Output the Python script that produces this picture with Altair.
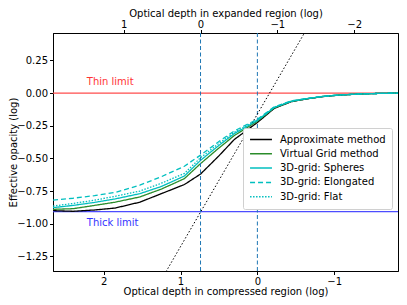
import altair as alt
import pandas as pd

# ---- data ----
x_pts = [2.66, 2.4, 2.12, 1.85, 1.53, 1.25, 0.95, 0.74, 0.5, 0.3, 0.0, -0.22, -0.44, -0.64, -0.85, -1.06, -1.3, -1.55, -1.83]
approx = [-0.90, -0.905, -0.895, -0.88, -0.835, -0.77, -0.70, -0.62, -0.48, -0.355, -0.225, -0.117, -0.066, -0.045, -0.027, -0.016, -0.008, -0.003, 0.0]
virtual = [-0.89, -0.885, -0.86, -0.835, -0.795, -0.735, -0.655, -0.54, -0.42, -0.325, -0.215, -0.113, -0.064, -0.044, -0.026, -0.015, -0.008, -0.003, 0.0]
spheres = [-0.877, -0.86, -0.837, -0.81, -0.77, -0.715, -0.635, -0.515, -0.40, -0.31, -0.21, -0.11, -0.063, -0.043, -0.026, -0.015, -0.008, -0.003, 0.0]
elongated = [-0.82, -0.805, -0.785, -0.76, -0.705, -0.64, -0.56, -0.475, -0.37, -0.29, -0.20, -0.105, -0.06, -0.041, -0.025, -0.014, -0.007, -0.003, 0.0]
flat = [-0.865, -0.845, -0.82, -0.79, -0.75, -0.69, -0.615, -0.495, -0.385, -0.30, -0.205, -0.108, -0.062, -0.042, -0.025, -0.015, -0.008, -0.003, 0.0]

methods = ["Approximate method", "Virtual Grid method", "3D-grid: Spheres", "3D-grid: Elongated", "3D-grid: Flat"]
colors = ["#000000", "#2a8c2a", "#00bfbf", "#00bfbf", "#00bfbf"]
dashes = [[1, 0], [1, 0], [1, 0], [5, 3], [1.5, 1.5]]

diag_x = [1.35, -0.75]
diag_y = [-1.53, 0.60]

thin_y = 0.0
thick_y = -0.908
vlines_bottom = [0.0]
vlines_top = [0.0]
shift = 0.74

x_dom = [-1.83, 2.66]
y_dom = [-1.362, 0.46]
bottom_ticks = [2, 1, 0, -1]
top_ticks = [1, 0, -1, -2]
y_ticks = [0.25, 0.0, -0.25, -0.5, -0.75, -1.0, -1.25]

label_x = [2.22, 2.22]
label_y = [0.085, -0.995]
label_text = ["Thin limit", "Thick limit"]

series = {methods[0]: approx, methods[1]: virtual, methods[2]: spheres,
          methods[3]: elongated, methods[4]: flat}
rows = []
for m in methods:
    for xv, yv in zip(x_pts, series[m]):
        rows.append({"method": m, "x": xv, "y": yv})
df = pd.DataFrame(rows)

FONT = "DejaVu Sans"
W, H = 345, 238

xscale = alt.Scale(domain=x_dom, reverse=True, nice=False, zero=False)
yscale = alt.Scale(domain=y_dom, nice=False, zero=False)

xenc = alt.X("x:Q", scale=xscale,
             axis=alt.Axis(title="Optical depth in compressed region (log)", values=bottom_ticks,
                           format="d", orient="bottom", titleX=W / 2, titleY=23,
                           titleBaseline="alphabetic", titleAlign="center"))
yenc = alt.Y("y:Q", scale=yscale,
             axis=alt.Axis(title="Effective opacity (log)", values=y_ticks, format=".2f",
                           titleX=-40, titleY=H / 2, titleBaseline="middle",
                           titleAlign="center", titleAngle=270))

lines = alt.Chart(df).mark_line(strokeWidth=1.3, clip=True).encode(
    x=xenc, y=yenc,
    color=alt.Color("method:N", sort=methods,
                    scale=alt.Scale(domain=methods, range=colors),
                    legend=alt.Legend(title=None, orient="none", legendX=190, legendY=95,
                                      symbolType="stroke", symbolSize=480, symbolStrokeWidth=1.5,
                                      labelFontSize=10, labelFont=FONT, labelColor="black",
                                      clipHeight=11, rowPadding=3.3, padding=6, labelOffset=7,
                                      strokeColor="#d0d0d0", fillColor="white",
                                      cornerRadius=2, symbolOffset=0)),
    strokeDash=alt.StrokeDash("method:N", sort=methods,
                              scale=alt.Scale(domain=methods, range=dashes)),
)

diag = alt.Chart(pd.DataFrame({"x": diag_x, "y": diag_y})).mark_line(
    color="black", strokeDash=[1.5, 2], strokeWidth=1, clip=True).encode(x=xenc, y=yenc)

thin_rule = alt.Chart(pd.DataFrame({"y": [thin_y]})).mark_rule(
    strokeWidth=1.3, color="#ff4d4d").encode(y=yenc)
thick_rule = alt.Chart(pd.DataFrame({"y": [thick_y]})).mark_rule(
    strokeWidth=1.3, color="#4d4dff").encode(y=yenc)

thin_text = alt.Chart(pd.DataFrame({"x": label_x[:1], "y": label_y[:1], "t": label_text[:1]})).mark_text(
    align="left", baseline="middle", fontSize=10, font=FONT, color="#ff3333").encode(
    x=xenc, y=yenc, text="t:N")
thick_text = alt.Chart(pd.DataFrame({"x": label_x[1:], "y": label_y[1:], "t": label_text[1:]})).mark_text(
    align="left", baseline="middle", fontSize=10, font=FONT, color="#3333ff").encode(
    x=xenc, y=yenc, text="t:N")

vb = alt.Chart(pd.DataFrame({"x": vlines_bottom})).mark_rule(
    color="#1f77b4", strokeDash=[4, 2.5], strokeWidth=1).encode(x=xenc)

bottom_layer = alt.layer(thin_rule, thick_rule, vb, diag, lines, thin_text, thick_text)

xt_scale = alt.Scale(domain=[x_dom[0] - shift, x_dom[1] - shift], reverse=True, nice=False, zero=False)
vt = alt.Chart(pd.DataFrame({"xt": vlines_top})).mark_rule(
    color="#1f77b4", strokeDash=[4, 2.5], strokeWidth=1).encode(
    x=alt.X("xt:Q", scale=xt_scale,
            axis=alt.Axis(title="Optical depth in expanded region (log)", values=top_ticks,
                          format="d", orient="top", titleX=W / 2, titleY=-25,
                          titleBaseline="top", titleAlign="center", labelPadding=0.5)))

chart = alt.layer(bottom_layer, vt).resolve_scale(x="independent").properties(
    width=W, height=H,
    autosize=alt.AutoSizeParams(type="none"),
    padding={"left": 45, "top": 25, "right": 1, "bottom": 26},
).configure_view(stroke="black", strokeWidth=1).configure_axis(
    labelFont=FONT, titleFont=FONT, labelFontSize=10, titleFontSize=10,
    titleFontWeight="normal", labelColor="black", titleColor="black",
    domainColor="black", tickColor="black", tickSize=3.5, grid=False,
    labelPadding=2,
)

chart.save("out.html", embed_options={"renderer": "svg", "actions": False})
